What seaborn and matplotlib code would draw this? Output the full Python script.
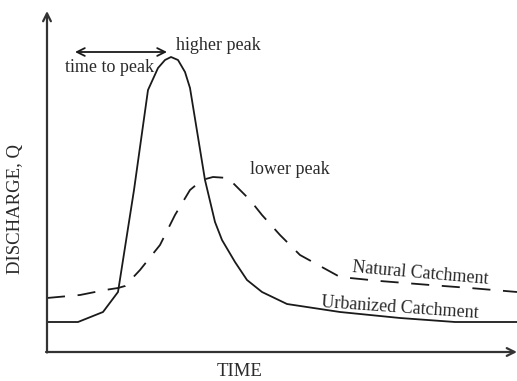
import matplotlib
matplotlib.use("Agg")
import matplotlib.pyplot as plt
import seaborn as sns
import pandas as pd

# Hydrograph: time since start of storm vs. discharge above the plot baseline
urban_time = [0, 31, 56, 71, 87, 101, 111, 118, 124, 131, 138, 143, 158, 168, 175, 188, 200, 215, 240, 293, 353, 408, 470]
urban_q = [29, 29, 39, 59, 161, 261, 283, 291, 294, 291, 279, 263, 171, 129, 111, 89, 71, 59, 47, 39, 33, 29, 29]

natural_time = [0, 33, 58, 71, 78, 93, 113, 128, 143, 155, 166, 181, 193, 203, 215, 233, 253, 293, 333, 383, 423, 470]
natural_q = [53, 56, 61, 63, 65, 81, 106, 136, 161, 171, 174, 173, 161, 151, 136, 116, 96, 74, 70, 66, 63, 59]

labels = {
    "x": "TIME",
    "y": "DISCHARGE, Q",
    "ttp": "time to peak",
    "high": "higher peak",
    "low": "lower peak",
    "nat": "Natural Catchment",
    "urb": "Urbanized Catchment",
}

sns.set_style("white")
plt.rcParams["font.family"] = ["Liberation Serif", "DejaVu Serif"]

fig = plt.figure(figsize=(5.17, 3.81), dpi=100)
ax = fig.add_axes([0, 0, 1, 1])
ax.set_xlim(-47, 470)
ax.set_ylim(-30, 351)
ax.axis("off")

ink = "#1a1a1a"
txt = "#2a2a2a"

urban = pd.DataFrame({"t": urban_time, "q": urban_q})
natural = pd.DataFrame({"t": natural_time, "q": natural_q})

sns.lineplot(data=urban, x="t", y="q", ax=ax, color=ink, lw=1.3, sort=False)
sns.lineplot(data=natural, x="t", y="q", ax=ax, color=ink, lw=1.3, sort=False,
             dashes=False)
ax.lines[-1].set_dashes((10, 7))

# axes drawn as arrows
ax.annotate("", xy=(0, 340), xytext=(0, -1.5),
            arrowprops=dict(arrowstyle="->", lw=1.6, color="#333333",
                            shrinkA=0, shrinkB=0, mutation_scale=14))
ax.annotate("", xy=(470, -1), xytext=(-1, -1),
            arrowprops=dict(arrowstyle="->", lw=1.6, color="#333333",
                            shrinkA=0, shrinkB=0, mutation_scale=14))

# time-to-peak marker
ax.annotate("", xy=(28, 299), xytext=(120, 299),
            arrowprops=dict(arrowstyle="<->", lw=1.3, color=ink,
                            shrinkA=0, shrinkB=0, mutation_scale=14))

fs = 13
ax.text(63, 283, labels["ttp"], ha="center", va="center", fontsize=fs, color=txt)
ax.text(129, 305, labels["high"], ha="left", va="center", fontsize=fs, color=txt)
ax.text(203, 182, labels["low"], ha="left", va="center", fontsize=fs, color=txt)
ax.text(373, 78, labels["nat"], ha="center", va="center", fontsize=fs,
        color=txt, rotation=-5, rotation_mode="anchor")
ax.text(353, 43, labels["urb"], ha="center", va="center", fontsize=fs,
        color=txt, rotation=-4, rotation_mode="anchor")
ax.text(193, -20, labels["x"], ha="center", va="center", fontsize=13.5, color=txt)
ax.text(-31, 142, labels["y"], ha="center", va="center", fontsize=13.5,
        color=txt, rotation=90)

fig.savefig("out.png", dpi=100)
